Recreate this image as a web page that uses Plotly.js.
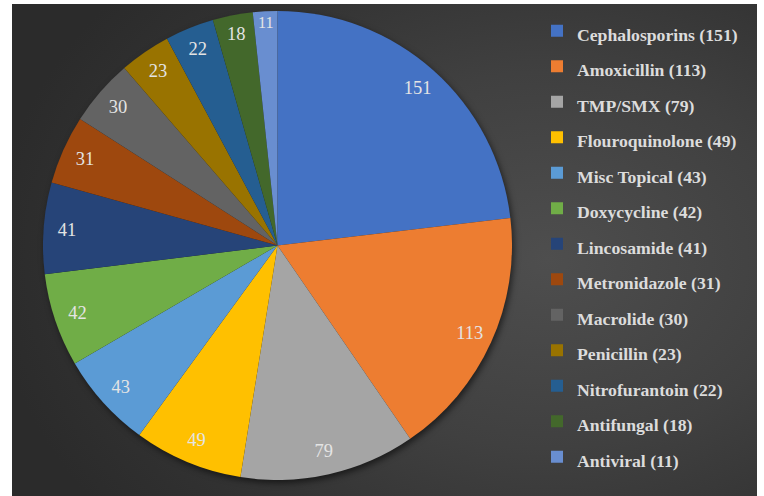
<!DOCTYPE html>
<html>
<head>
<meta charset="utf-8">
<script src="https://cdn.plot.ly/plotly-3.0.1.min.js"></script>
<style>
  html, body { margin:0; padding:0; background:#ffffff; }
  #wrap { position:relative; width:764px; height:496px; background:#ffffff; overflow:hidden; }
  #bg { position:absolute; left:12px; top:4px; width:745px; height:492px;
        background: radial-gradient(ellipse 75% 85% at 72% 52%, #4e4e4e 0%, #404040 45%, #313131 80%, #2b2b2b 100%); }
  #chart { position:absolute; left:0; top:0; width:764px; height:496px; }
  #chart .pielayer .trace:first-child { filter: drop-shadow(2px 3px 3px rgba(0,0,0,0.55)); }
</style>
</head>
<body>
<div id="wrap"><div id="bg"></div><div id="chart"></div></div>
<script>
const categories = ["Cephalosporins","Amoxicillin","TMP/SMX","Flouroquinolone","Misc Topical","Doxycycline","Lincosamide","Metronidazole","Macrolide","Penicillin","Nitrofurantoin","Antifungal","Antiviral"];
const values = [151,113,79,49,43,42,41,31,30,23,22,18,11];
const colors = ["#4472C4","#ED7D31","#A5A5A5","#FFC000","#5B9BD5","#70AD47","#264478","#9E480E","#636363","#997300","#255E91","#43682B","#698ED0"];

const SERIF = 'Liberation Serif';

const legendLabels = categories.map((c, i) => '<span style="font-size:17.7px"><b>' + c + ' (' + values[i] + ')</b></span>');

const dom = { x: [43/764, 512/764], y: [16/496, 485/496] };

const pieTrace = {
  type: 'pie',
  labels: legendLabels,
  values: values,
  sort: false,
  direction: 'clockwise',
  rotation: 0,
  domain: dom,
  marker: { colors: colors, line: { width: 0 } },
  textinfo: 'none',
  hoverinfo: 'skip'
};

const ringTrace = {
  type: 'pie',
  labels: legendLabels,
  values: values,
  sort: false,
  direction: 'clockwise',
  rotation: 0,
  hole: 0.8,
  domain: dom,
  showlegend: false,
  marker: { colors: values.map(() => 'rgba(0,0,0,0)'), line: { width: 0 } },
  text: values.map(String),
  textinfo: 'text',
  textposition: 'inside',
  insidetextorientation: 'horizontal',
  insidetextfont: { family: SERIF, size: 18.5, color: '#e4e4e4' },
  hoverinfo: 'skip'
};

const layout = {
  width: 764, height: 496,
  margin: { l: 0, r: 0, t: 0, b: 0 },
  paper_bgcolor: 'rgba(0,0,0,0)',
  plot_bgcolor: 'rgba(0,0,0,0)',
  font: { family: SERIF },
  showlegend: true,
  legend: {
    x: 537/764, xanchor: 'left',
    y: 1 - 8/496, yanchor: 'top',
    bgcolor: 'rgba(0,0,0,0)',
    font: { family: SERIF, size: 25, color: '#dcdcdc' },
    traceorder: 'normal'
  }
};

Plotly.newPlot('chart', [pieTrace, ringTrace], layout, { displayModeBar: false, staticPlot: true });
</script>
</body>
</html>
